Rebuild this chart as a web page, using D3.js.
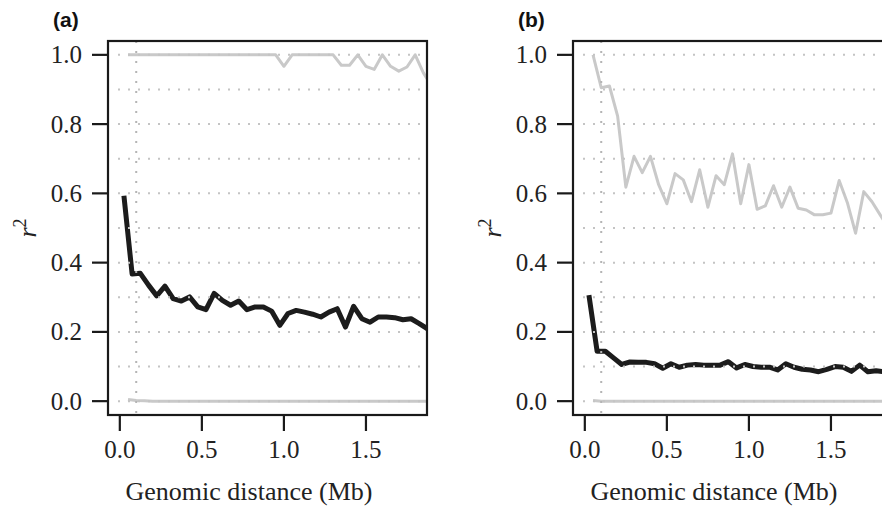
<!DOCTYPE html>
<html>
<head>
<meta charset="utf-8">
<script src="https://cdn.jsdelivr.net/npm/d3@7"></script>
<style>
  body { margin: 0; background: #fff; }
</style>
</head>
<body>
<div id="chart"></div>
<script>

// bin midpoints (Mb) for the mean r^2 line
const distMid = [0.025, 0.075, 0.125, 0.175, 0.225, 0.275, 0.325, 0.375, 0.425, 0.475,
  0.525, 0.575, 0.625, 0.675, 0.725, 0.775, 0.825, 0.875, 0.925, 0.975,
  1.025, 1.075, 1.125, 1.175, 1.225, 1.275, 1.325, 1.375, 1.425, 1.475,
  1.525, 1.575, 1.625, 1.675, 1.725, 1.775, 1.825, 1.875];

// bin ends (Mb) for the upper / lower grey lines
const distEnd = [0.05, 0.10, 0.15, 0.20, 0.25, 0.30, 0.35, 0.40, 0.45, 0.50,
  0.55, 0.60, 0.65, 0.70, 0.75, 0.80, 0.85, 0.90, 0.95, 1.00,
  1.05, 1.10, 1.15, 1.20, 1.25, 1.30, 1.35, 1.40, 1.45, 1.50,
  1.55, 1.60, 1.65, 1.70, 1.75, 1.80, 1.85, 1.90];

// panel (a)
const meanA = [0.593, 0.367, 0.369, 0.335, 0.304, 0.332, 0.296, 0.289, 0.301, 0.272,
  0.264, 0.311, 0.291, 0.277, 0.289, 0.264, 0.272, 0.272, 0.260, 0.219,
  0.253, 0.262, 0.257, 0.251, 0.243, 0.257, 0.267, 0.214, 0.274, 0.238,
  0.228, 0.243, 0.243, 0.241, 0.235, 0.238, 0.224, 0.209];
const upperA = [1.0, 1.0, 1.0, 1.0, 1.0, 1.0, 1.0, 1.0, 1.0, 1.0,
  1.0, 1.0, 1.0, 1.0, 1.0, 1.0, 1.0, 1.0, 1.0, 0.967,
  1.0, 1.0, 1.0, 1.0, 1.0, 1.0, 0.970, 0.970, 1.0, 0.967,
  0.958, 1.0, 0.967, 0.953, 0.965, 1.0, 0.948, 0.910];
const lowerA = [0.005, 0.002, 0.001, 0, 0, 0, 0, 0, 0, 0,
  0, 0, 0, 0, 0, 0, 0, 0, 0, 0,
  0, 0, 0, 0, 0, 0, 0, 0, 0, 0,
  0, 0, 0, 0, 0, 0, 0, 0];

// panel (b)
const meanB = [0.306, 0.144, 0.144, 0.125, 0.106, 0.113, 0.112, 0.112, 0.108, 0.095,
  0.108, 0.098, 0.104, 0.106, 0.104, 0.104, 0.104, 0.114, 0.096, 0.106,
  0.100, 0.098, 0.098, 0.090, 0.108, 0.098, 0.092, 0.090, 0.085, 0.092,
  0.100, 0.098, 0.086, 0.104, 0.085, 0.088, 0.085, 0.083];
const upperB = [1.0, 0.905, 0.910, 0.823, 0.618, 0.707, 0.660, 0.707, 0.625, 0.570,
  0.657, 0.639, 0.576, 0.668, 0.560, 0.651, 0.625, 0.714, 0.570, 0.683,
  0.554, 0.564, 0.622, 0.560, 0.618, 0.557, 0.552, 0.538, 0.538, 0.543,
  0.637, 0.573, 0.485, 0.605, 0.576, 0.538, 0.500, 0.480];
const lowerB = [0.002, 0, 0, 0, 0, 0, 0, 0, 0, 0,
  0, 0, 0, 0, 0, 0, 0, 0, 0, 0,
  0, 0, 0, 0, 0, 0, 0, 0, 0, 0,
  0, 0, 0, 0, 0, 0, 0, 0];

const xTicks = [0, 0.5, 1.0, 1.5];
const yTicks = [0, 0.2, 0.4, 0.6, 0.8, 1.0];
const gridY = [0, 0.1, 0.2, 0.3, 0.4, 0.5, 0.6, 0.7, 0.8, 0.9, 1.0];
const cutoff = 0.1; // vertical dotted line

const serif = "'Liberation Serif'";
const sans = "'Liberation Sans'";

const svg = d3.select('#chart').append('svg')
    .attr('width', 882)
    .attr('height', 508);

svg.append('rect').attr('width', 882).attr('height', 508).attr('fill', '#fff');

class LdPanel {

  constructor(_config, _data) {
    this.config = {
      id: _config.id,
      label: _config.label,
      left: _config.left,
      top: 41,
      width: 319,
      height: 374,
      tickLength: 16
    }
    this.data = _data;
    this.initVis();
  }

  initVis() {
    let vis = this;
    let c = vis.config;

    // R style: limits [0, 1.8] and [0, 1] padded by 4%
    vis.xScale = d3.scaleLinear()
        .domain([-0.072, 1.872])
        .range([c.left, c.left + c.width]);

    vis.yScale = d3.scaleLinear()
        .domain([-0.04, 1.04])
        .range([c.top + c.height, c.top]);

    vis.g = svg.append('g');

    vis.g.append('clipPath')
        .attr('id', 'clip-' + c.id)
      .append('rect')
        .attr('x', c.left)
        .attr('y', c.top)
        .attr('width', c.width)
        .attr('height', c.height);

    vis.renderVis();
  }

  renderVis() {
    let vis = this;
    let c = vis.config;

    let plot = vis.g.append('g').attr('clip-path', `url(#clip-${c.id})`);

    let line = d3.line()
        .x(d => vis.xScale(d[0]))
        .y(d => vis.yScale(d[1]));

    // grey upper and lower lines
    [vis.data.upper, vis.data.lower].forEach(series => {
      plot.append('path')
          .datum(distEnd.map((x, i) => [x, series[i]]))
          .attr('fill', 'none')
          .attr('stroke', '#c9c9c9')
          .attr('stroke-width', 3)
          .attr('stroke-linejoin', 'round')
          .attr('d', line);
    });

    // mean line
    plot.append('path')
        .datum(distMid.map((x, i) => [x, vis.data.mean[i]]))
        .attr('fill', 'none')
        .attr('stroke', '#1c1c1c')
        .attr('stroke-width', 5)
        .attr('stroke-linejoin', 'round')
        .attr('d', line);

    // dotted grid drawn on top
    plot.selectAll('.grid-h')
        .data(gridY)
        .join('line')
        .attr('class', 'grid-h')
        .attr('x1', c.left + 10)
        .attr('x2', c.left + c.width)
        .attr('y1', d => vis.yScale(d))
        .attr('y2', d => vis.yScale(d))
        .attr('stroke', '#c4c4c4')
        .attr('stroke-width', 2)
        .attr('stroke-dasharray', '2,8');

    plot.append('line')
        .attr('x1', vis.xScale(cutoff))
        .attr('x2', vis.xScale(cutoff))
        .attr('y1', c.top)
        .attr('y2', c.top + c.height)
        .attr('stroke', '#b4b4b4')
        .attr('stroke-width', 2)
        .attr('stroke-dasharray', '2,8');

    // box
    vis.g.append('rect')
        .attr('x', c.left)
        .attr('y', c.top)
        .attr('width', c.width)
        .attr('height', c.height)
        .attr('fill', 'none')
        .attr('stroke', '#1a1a1a')
        .attr('stroke-width', 2.2);

    // y axis ticks + labels
    vis.g.selectAll('.y-tick')
        .data(yTicks)
        .join('line')
        .attr('class', 'y-tick')
        .attr('x1', c.left - c.tickLength)
        .attr('x2', c.left)
        .attr('y1', d => vis.yScale(d))
        .attr('y2', d => vis.yScale(d))
        .attr('stroke', '#1a1a1a')
        .attr('stroke-width', 2.2);

    vis.g.selectAll('.y-label')
        .data(yTicks)
        .join('text')
        .attr('class', 'y-label')
        .attr('x', c.left - 26)
        .attr('y', d => vis.yScale(d) + 8.5)
        .attr('text-anchor', 'end')
        .style('font-family', serif)
        .style('font-size', '25px')
        .style('fill', '#222')
        .text(d => d3.format('.1f')(d));

    // x axis ticks + labels
    vis.g.selectAll('.x-tick')
        .data(xTicks)
        .join('line')
        .attr('class', 'x-tick')
        .attr('x1', d => vis.xScale(d))
        .attr('x2', d => vis.xScale(d))
        .attr('y1', c.top + c.height)
        .attr('y2', c.top + c.height + c.tickLength)
        .attr('stroke', '#1a1a1a')
        .attr('stroke-width', 2.2);

    vis.g.selectAll('.x-label')
        .data(xTicks)
        .join('text')
        .attr('class', 'x-label')
        .attr('x', d => vis.xScale(d))
        .attr('y', 458)
        .attr('text-anchor', 'middle')
        .style('font-family', serif)
        .style('font-size', '25px')
        .style('fill', '#222')
        .text(d => d3.format('.1f')(d));

    vis.g.append('text')
        .attr('x', c.left + 141)
        .attr('y', 500)
        .attr('text-anchor', 'middle')
        .style('font-family', serif)
        .style('font-size', '26px')
        .style('fill', '#222')
        .text('Genomic distance (Mb)');

    // r^2 label
    let rLab = vis.g.append('text')
        .attr('transform', `translate(${c.left - 72}, ${c.top + c.height / 2}) rotate(-90)`)
        .attr('text-anchor', 'middle')
        .style('font-family', serif)
        .style('font-size', '26px')
        .style('fill', '#222');
    rLab.append('tspan').style('font-style', 'italic').text('r');
    rLab.append('tspan').attr('dy', -10).style('font-size', '18px').text('2');

    // panel letter
    vis.g.append('text')
        .attr('x', c.left - 55)
        .attr('y', 27)
        .style('font-family', sans)
        .style('font-weight', 'bold')
        .style('font-size', '21px')
        .style('fill', '#111')
        .text(c.label);
  }
}

new LdPanel({id: 'a', label: '(a)', left: 108}, {mean: meanA, upper: upperA, lower: lowerA});
new LdPanel({id: 'b', label: '(b)', left: 573}, {mean: meanB, upper: upperB, lower: lowerB});

</script>
</body>
</html>
